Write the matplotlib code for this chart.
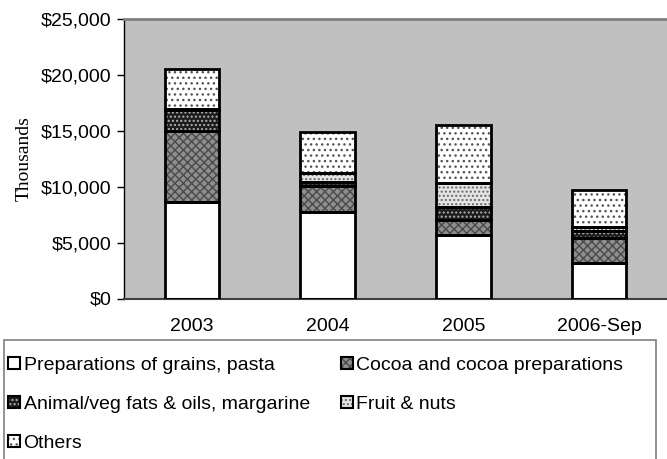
import matplotlib
matplotlib.use("Agg")
import matplotlib.pyplot as plt
import numpy as np
from matplotlib.ticker import FuncFormatter
from matplotlib.legend_handler import HandlerBase
from matplotlib.patches import Rectangle

categories = ["2003", "2004", "2005", "2006-Sep"]
grains = [8650, 7750, 5700, 3150]
cocoa = [6350, 2350, 1350, 2250]
fats = [1900, 350, 1150, 600]
fruit = [100, 750, 2150, 400]
others = [3550, 3700, 5150, 3300]

series_names = ["Preparations of grains, pasta", "Cocoa and cocoa preparations",
                "Animal/veg fats & oils, margarine", "Fruit & nuts", "Others"]
series = [grains, cocoa, fats, fruit, others]
styles = [
    dict(face="white", hatch=None, hcol="black"),
    dict(face="#8e8e8e", hatch="xxxx", hcol="#4a4a4a"),
    dict(face="#1c1c1c", hatch="....", hcol="#b0b0b0"),
    dict(face="#e4e4e4", hatch="....", hcol="#6a6a6a"),
    dict(face="white", hatch="...", hcol="#555555"),
]

plt.rcParams['font.family'] = ['Liberation Sans', 'DejaVu Sans']
plt.rcParams['hatch.linewidth'] = 1.0
FS = 14

fig = plt.figure(figsize=(6.67, 4.59), dpi=100)
ax = fig.add_axes([124/667, 1-298.5/459, 1-124/667, (298.5-19.3)/459])
ax.set_facecolor("#c0c0c0")

x = np.arange(len(categories))
width = 0.40
bottom = np.zeros(len(categories))
for name, vals, st in zip(series_names, series, styles):
    vals = np.array(vals, dtype=float)
    if st["hatch"]:
        ax.bar(x, vals, width, bottom=bottom, facecolor=st["face"], hatch=st["hatch"],
               edgecolor=st["hcol"], linewidth=0, zorder=2)
    else:
        ax.bar(x, vals, width, bottom=bottom, facecolor=st["face"], linewidth=0, zorder=2)
    ax.bar(x, vals, width, bottom=bottom, facecolor="none", edgecolor="black",
           linewidth=2, zorder=3)
    bottom += vals

ax.set_xlim(-0.5, 3.5)
ax.set_ylim(0, 25000)
ax.set_yticks(np.arange(0, 25001, 5000))
ax.yaxis.set_major_formatter(FuncFormatter(lambda v, p: "${:,.0f}".format(v)))
ax.set_xticks(x)
ax.set_xticklabels(categories)
ax.tick_params(axis='x', length=0, pad=14, labelsize=FS)
ax.tick_params(axis='y', length=5, width=1, labelsize=FS, pad=4)
ax.spines['top'].set_color("#808080")
ax.spines['top'].set_linewidth(2)
ax.spines['right'].set_visible(False)
ax.spines['left'].set_linewidth(1)
ax.spines['bottom'].set_linewidth(1.5)
ax.spines['bottom'].set_color("#404040")
ax.set_ylabel("Thousands", family=['Liberation Serif', 'DejaVu Serif'], fontsize=FS, labelpad=6)


class H:
    def __init__(self, st):
        self.st = st


class Handler(HandlerBase):
    def create_artists(self, legend, orig_handle, xdescent, ydescent, width, height, fontsize, trans):
        st = orig_handle.st
        s = min(width, height)
        x0 = -xdescent + (width - s) / 2
        y0 = -ydescent + (height - s) / 2
        r1 = Rectangle((x0, y0), s, s, facecolor=st["face"], hatch=st["hatch"],
                       edgecolor=st["hcol"], linewidth=0, transform=trans)
        r2 = Rectangle((x0, y0), s, s, facecolor="none", edgecolor="black",
                       linewidth=1.5, transform=trans)
        return [r1, r2]


objs = [H(st) for st in styles]
order = [0, 2, 4, 1, 3]
leg = fig.legend([objs[i] for i in order], [series_names[i] for i in order],
                 handler_map={H: Handler()},
                 loc="upper left", bbox_to_anchor=(8/667, 1-357/459),
                 ncol=2, fontsize=FS, frameon=False,
                 handlelength=0.6, handleheight=0.6,
                 handletextpad=0.2, labelspacing=1.12, columnspacing=1.6,
                 borderpad=0, borderaxespad=0)

frame = Rectangle((4/667, -0.05), 652/667, 1-340/459 + 0.05, transform=fig.transFigure,
                  facecolor="none", edgecolor="#808080", linewidth=1.2)
fig.add_artist(frame)

fig.savefig("out.png", dpi=100)
